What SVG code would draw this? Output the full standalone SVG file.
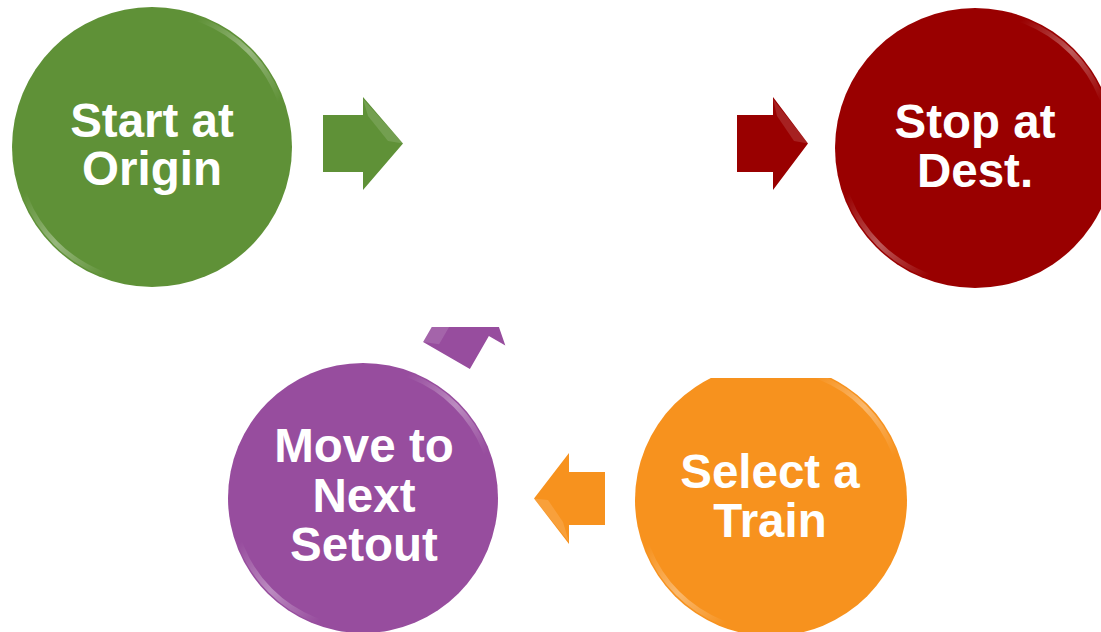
<svg xmlns="http://www.w3.org/2000/svg" width="1101" height="632" viewBox="0 0 1101 632">
  <style>
    .lbl { font-family: "Liberation Sans", Arial, sans-serif; font-weight: bold; font-size: 47.5px; fill: #ffffff; text-anchor: middle; }
    .rim { fill: none; stroke: url(#rimGrad); stroke-width: 5; }
    .hl { fill: #ffffff; opacity: 0.13; }
  </style>
  <defs>
    <linearGradient id="rimGrad" x1="0" y1="0" x2="1" y2="1">
      <stop offset="0" stop-color="#ffffff" stop-opacity="0"/>
      <stop offset="0.35" stop-color="#ffffff" stop-opacity="0"/>
      <stop offset="0.5" stop-color="#ffffff" stop-opacity="0.35"/>
      <stop offset="0.65" stop-color="#ffffff" stop-opacity="0"/>
      <stop offset="1" stop-color="#ffffff" stop-opacity="0"/>
    </linearGradient>
    <clipPath id="clipOrange"><rect x="0" y="378" width="1101" height="254"/></clipPath>
    <clipPath id="clipPurpleArrow"><rect x="0" y="327" width="1101" height="305"/></clipPath>
  </defs>

  <rect width="1101" height="632" fill="#ffffff"/>

  <g id="connectors">
    <g id="arrow-start-mid">
      <path d="M323,115 H363 V97 L403,143.5 L363,190 V172 H323 Z" fill="#5F9137"/>
      <path class="hl" d="M363,99 L403,143.5 L388,141 L368,116 Z"/>
    </g>
    <g id="arrow-mid-stop">
      <path d="M737,115 H773 V97 L808,143.5 L773,190 V172 H737 Z" fill="#990000"/>
      <path class="hl" d="M773,99 L808,143.5 L794,141 L777,116 Z"/>
    </g>
    <g id="arrow-select-move">
      <path d="M605,472 H569 V453 L534,498.5 L569,544 V525 H605 Z" fill="#F7921E"/>
      <path class="hl" d="M534,498.5 L569,542 L563,522 L548,500 Z"/>
    </g>
    <g id="arrow-move-mid" clip-path="url(#clipPurpleArrow)">
      <g transform="translate(446.5,355.5) rotate(-60)">
        <path d="M0,-27 H38 V-46 L78,0 L38,46 V27 H0 Z" fill="#974D9E"/>
        <path class="hl" d="M0,-27 L38,-27 L30,-12 L6,-12 Z"/>
      </g>
    </g>
  </g>

  <g id="node-start">
    <circle cx="152" cy="147" r="140" fill="#5F9137"/>
    <circle class="rim" cx="152" cy="147" r="136"/>
    <text class="lbl" x="152" y="137">Start at</text>
    <text class="lbl" x="152" y="185">Origin</text>
  </g>

  <g id="node-stop">
    <circle cx="975" cy="148" r="140" fill="#990000"/>
    <circle class="rim" cx="975" cy="148" r="136"/>
    <text class="lbl" x="975" y="138">Stop at</text>
    <text class="lbl" x="975" y="187">Dest.</text>
  </g>

  <g id="node-select" clip-path="url(#clipOrange)">
    <circle cx="771" cy="500" r="136" fill="#F7921E"/>
    <circle class="rim" cx="771" cy="500" r="132"/>
    <text class="lbl" x="770" y="488">Select a</text>
    <text class="lbl" x="770" y="537">Train</text>
  </g>

  <g id="node-move">
    <circle cx="363" cy="498" r="135" fill="#974D9E"/>
    <circle class="rim" cx="363" cy="498" r="131"/>
    <text class="lbl" x="364" y="462">Move to</text>
    <text class="lbl" x="364" y="512">Next</text>
    <text class="lbl" x="364" y="561">Setout</text>
  </g>
</svg>
